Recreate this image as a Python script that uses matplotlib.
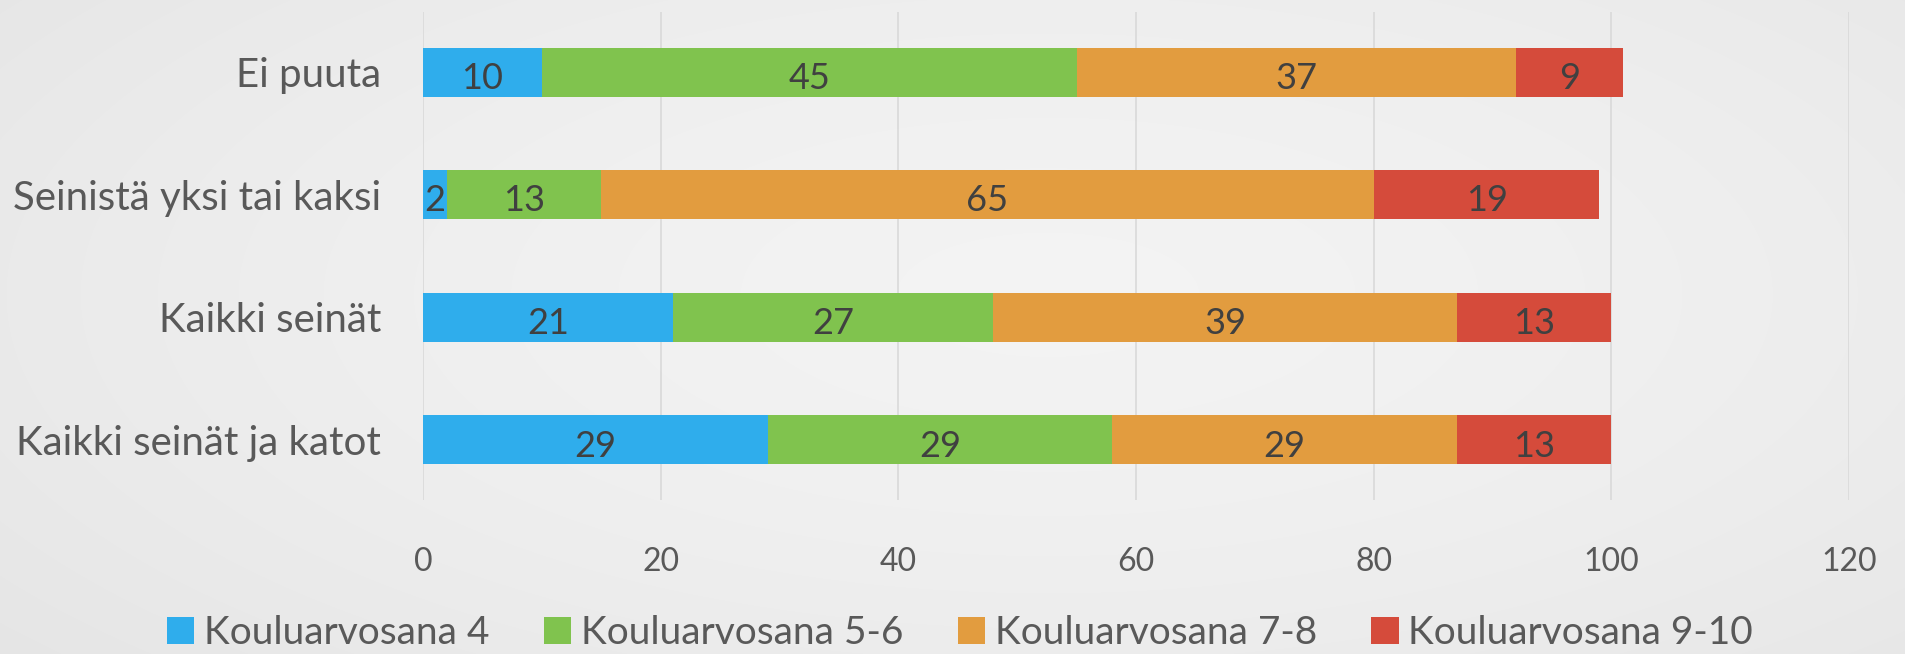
import numpy as np
import matplotlib
matplotlib.use("Agg")
import matplotlib.pyplot as plt
from matplotlib.patches import Patch

categories = ["Ei puuta", "Seinistä yksi tai kaksi", "Kaikki seinät", "Kaikki seinät ja katot"]
series_names = ["Kouluarvosana 4", "Kouluarvosana 5-6", "Kouluarvosana 7-8", "Kouluarvosana 9-10"]
grade_4 = [10, 2, 21, 29]
grade_5_6 = [45, 13, 27, 29]
grade_7_8 = [37, 65, 39, 29]
grade_9_10 = [9, 19, 13, 13]
x_ticks = [0, 20, 40, 60, 80, 100, 120]

colors = ["#2FADEC", "#80C34E", "#E29C3F", "#D54B3B"]
text_color = "#595959"
label_color = "#404040"
font = "Lato"

W, H = 1905, 654
fig = plt.figure(figsize=(W / 100, H / 100), dpi=100)

# background radial gradient
bg = fig.add_axes([0, 0, 1, 1])
yy, xx = np.mgrid[0:H, 0:W]
cx, cy = 0.55 * W, 0.45 * H
r = np.sqrt(((xx - cx) / (0.75 * W)) ** 2 + ((yy - cy) / (0.9 * H)) ** 2)
v = 0.955 - 0.06 * np.clip(r, 0, 1.2) ** 1.5
img = np.dstack([v, v, v])
bg.imshow(img, aspect="auto", extent=[0, 1, 0, 1])
bg.set_axis_off()

ax = fig.add_axes([423 / W, 154 / H, (1849 - 423) / W, (642 - 154) / H])
ax.set_facecolor("none")
y = np.arange(len(categories))[::-1]
series = [grade_4, grade_5_6, grade_7_8, grade_9_10]
left = np.zeros(len(categories))
for vals, c, name in zip(series, colors, series_names):
    bars = ax.barh(y, vals, left=left, height=0.4, color=c, label=name, zorder=3)
    for rect, v_ in zip(bars, vals):
        ax.text(rect.get_x() + rect.get_width() / 2, rect.get_y() + rect.get_height() / 2 - 0.05,
                str(v_), ha="center", va="center", fontsize=26, color=label_color,
                family=font, zorder=4)
    left = left + np.array(vals)

ax.set_xlim(0, 120)
ax.set_ylim(-0.49, 3.49)
ax.set_xticks(x_ticks)
ax.set_xticklabels([str(t) for t in x_ticks], fontsize=23, color=text_color, family=font)
ax.set_yticks(y)
ax.set_yticklabels(categories, fontsize=29, color=text_color, family=font)
ax.tick_params(axis="x", length=0, pad=34)
ax.tick_params(axis="y", length=0, pad=30)
ax.grid(axis="x", color="#D9D9D9", linewidth=1.2, zorder=0)
for s in ax.spines.values():
    s.set_visible(False)

handles = [Patch(facecolor=c, label=n) for c, n in zip(colors, series_names)]
fig.legend(handles=handles, loc="center", bbox_to_anchor=(0.504, (654 - 633) / H),
           ncol=4, frameon=False, prop={"family": font, "size": 28},
           labelcolor=text_color, handlelength=0.7, handleheight=0.7,
           handletextpad=0.25, columnspacing=1.4)

fig.savefig("out.png", dpi=100)
